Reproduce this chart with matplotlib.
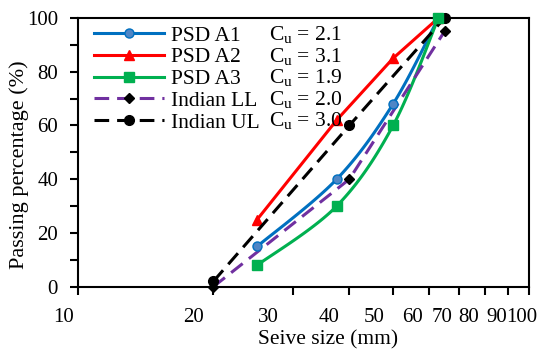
import numpy as np
import matplotlib
matplotlib.use("Agg")
import matplotlib.pyplot as plt
from matplotlib.transforms import ScaledTranslation

plt.rcParams['font.family'] = ['Liberation Serif', 'DejaVu Serif']
plt.rcParams['mathtext.fontset'] = 'custom'
plt.rcParams['mathtext.rm'] = 'Liberation Serif'
plt.rcParams['mathtext.it'] = 'Liberation Serif'

# sieve sizes (mm) and percent passing
psd_size = [25, 37.5, 50, 63]
a1 = [15, 40, 68, 100]
a2 = [25, 62, 85, 100]
a3 = [8, 30, 60, 100]
indian_size = [20, 40, 65]
indian_ll = [0, 40, 95]
indian_ul = [2, 60, 100]

series_names = ['PSD A1', 'PSD A2', 'PSD A3', 'Indian LL', 'Indian UL']
cu_values = ['2.1', '3.1', '1.9', '2.0', '3.0']

x_ticks = [10, 20, 30, 40, 50, 60, 70, 80, 90, 100]
x_ticklabels = ['10', '20', '30', '40', '50', '60', '70', '80', '90', '100']
y_ticks = [0, 20, 40, 60, 80, 100]


def smooth(ax, xs, ys, n=30):
    # Catmull-Rom spline in display space (like Excel "smoothed line")
    pts = ax.transData.transform(np.column_stack([xs, ys]))
    p = np.vstack([pts[0], pts, pts[-1]])
    out = []
    t = np.linspace(0, 1, n)[:, None]
    for i in range(1, len(p) - 2):
        p0, p1, p2, p3 = p[i - 1], p[i], p[i + 1], p[i + 2]
        seg = 0.5 * ((2 * p1) + (-p0 + p2) * t + (2 * p0 - 5 * p1 + 4 * p2 - p3) * t ** 2
                     + (-p0 + 3 * p1 - 3 * p2 + p3) * t ** 3)
        out.append(seg)
    out = np.vstack(out)
    d = ax.transData.inverted().transform(out)
    return d[:, 0], d[:, 1]


fig = plt.figure(figsize=(5.39, 3.49), dpi=100)
ax = fig.add_axes([0.1438, 0.1785, 0.8376, 0.7699])
ax.set_xscale('log')
ax.set_xlim(10, 100)
ax.set_ylim(0, 100)

blue, red, green, purple = '#0070C0', '#FF0000', '#00B050', '#7030A0'
lw = 2.2
dash = (0, (4.8, 2.6))

sx, sy = smooth(ax, psd_size, a1)
ax.plot(sx, sy, color=blue, lw=lw, clip_on=False)
ax.plot(psd_size, a1, ls='none', marker='o', ms=6.5, mfc='#4F86C6', mec=blue, clip_on=False, zorder=5)
ax.plot(psd_size, a2, color=red, lw=lw, marker='^', ms=7.5, clip_on=False)
sx, sy = smooth(ax, psd_size, a3)
ax.plot(sx, sy, color=green, lw=lw, clip_on=False)
ax.plot(psd_size, a3, ls='none', marker='s', ms=6.5, color=green, clip_on=False, zorder=5)
ax.plot(indian_size, indian_ll, color=purple, lw=lw, ls=dash, marker='D', ms=5.5,
        mfc='black', mec='black', clip_on=False, zorder=4)
ax.plot(indian_size, indian_ul, color='black', lw=lw, ls=dash, marker='o', ms=7,
        clip_on=False, zorder=4)

# legend handles (one marker in middle)
handles = [
    plt.Line2D([], [], color=blue, lw=lw, marker='o', ms=6.5, mfc='#4F86C6', mec=blue),
    plt.Line2D([], [], color=red, lw=lw, marker='^', ms=7.5),
    plt.Line2D([], [], color=green, lw=lw, marker='s', ms=6.5),
    plt.Line2D([], [], color=purple, lw=lw, ls=dash, marker='D', ms=5.5, mfc='black', mec='black'),
    plt.Line2D([], [], color='black', lw=lw, ls=dash, marker='o', ms=7),
]
leg = ax.legend(handles, series_names, loc='upper left', bbox_to_anchor=(0.036, 0.972),
                frameon=False, fontsize=15.5, handlelength=3.25, handletextpad=0.35,
                labelspacing=0.08, borderpad=0.0, borderaxespad=0.0)

for i, cu in enumerate(cu_values):
    ax.text(0.424, 0.938 - i * 0.0800, r'C$_\mathrm{u}$ = ' + cu, transform=ax.transAxes,
            fontsize=15.5, va='center', ha='left')

ax.set_xticks(x_ticks)
ax.set_xticklabels(x_ticklabels)
ax.xaxis.set_minor_locator(matplotlib.ticker.NullLocator())
ax.set_yticks(y_ticks)
ax.set_yticks([10, 30, 50, 70, 90], minor=True)
ax.tick_params(axis='both', which='both', direction='out', length=6, width=1.5, labelsize=15)
ax.tick_params(axis='x', pad=9)
ax.tick_params(axis='y', pad=8)

# labels in the original sit somewhat left of their ticks
label_shift = [-14, -20, -25, -20, -19, -16, -17, -17, -12, -7]
for lab, dx in zip(ax.get_xticklabels(), label_shift):
    lab.set_transform(lab.get_transform() + ScaledTranslation(dx / 100, 0, fig.dpi_scale_trans))

for s in ax.spines.values():
    s.set_linewidth(1.5)

ax.set_xlabel('Seive size (mm)', fontsize=15.5)
ax.xaxis.set_label_coords(0.556, -0.163)
ax.set_ylabel('Passing percentage (%)', fontsize=16)
ax.yaxis.set_label_coords(-0.107, 0.453)

fig.savefig('out.png', dpi=100)
